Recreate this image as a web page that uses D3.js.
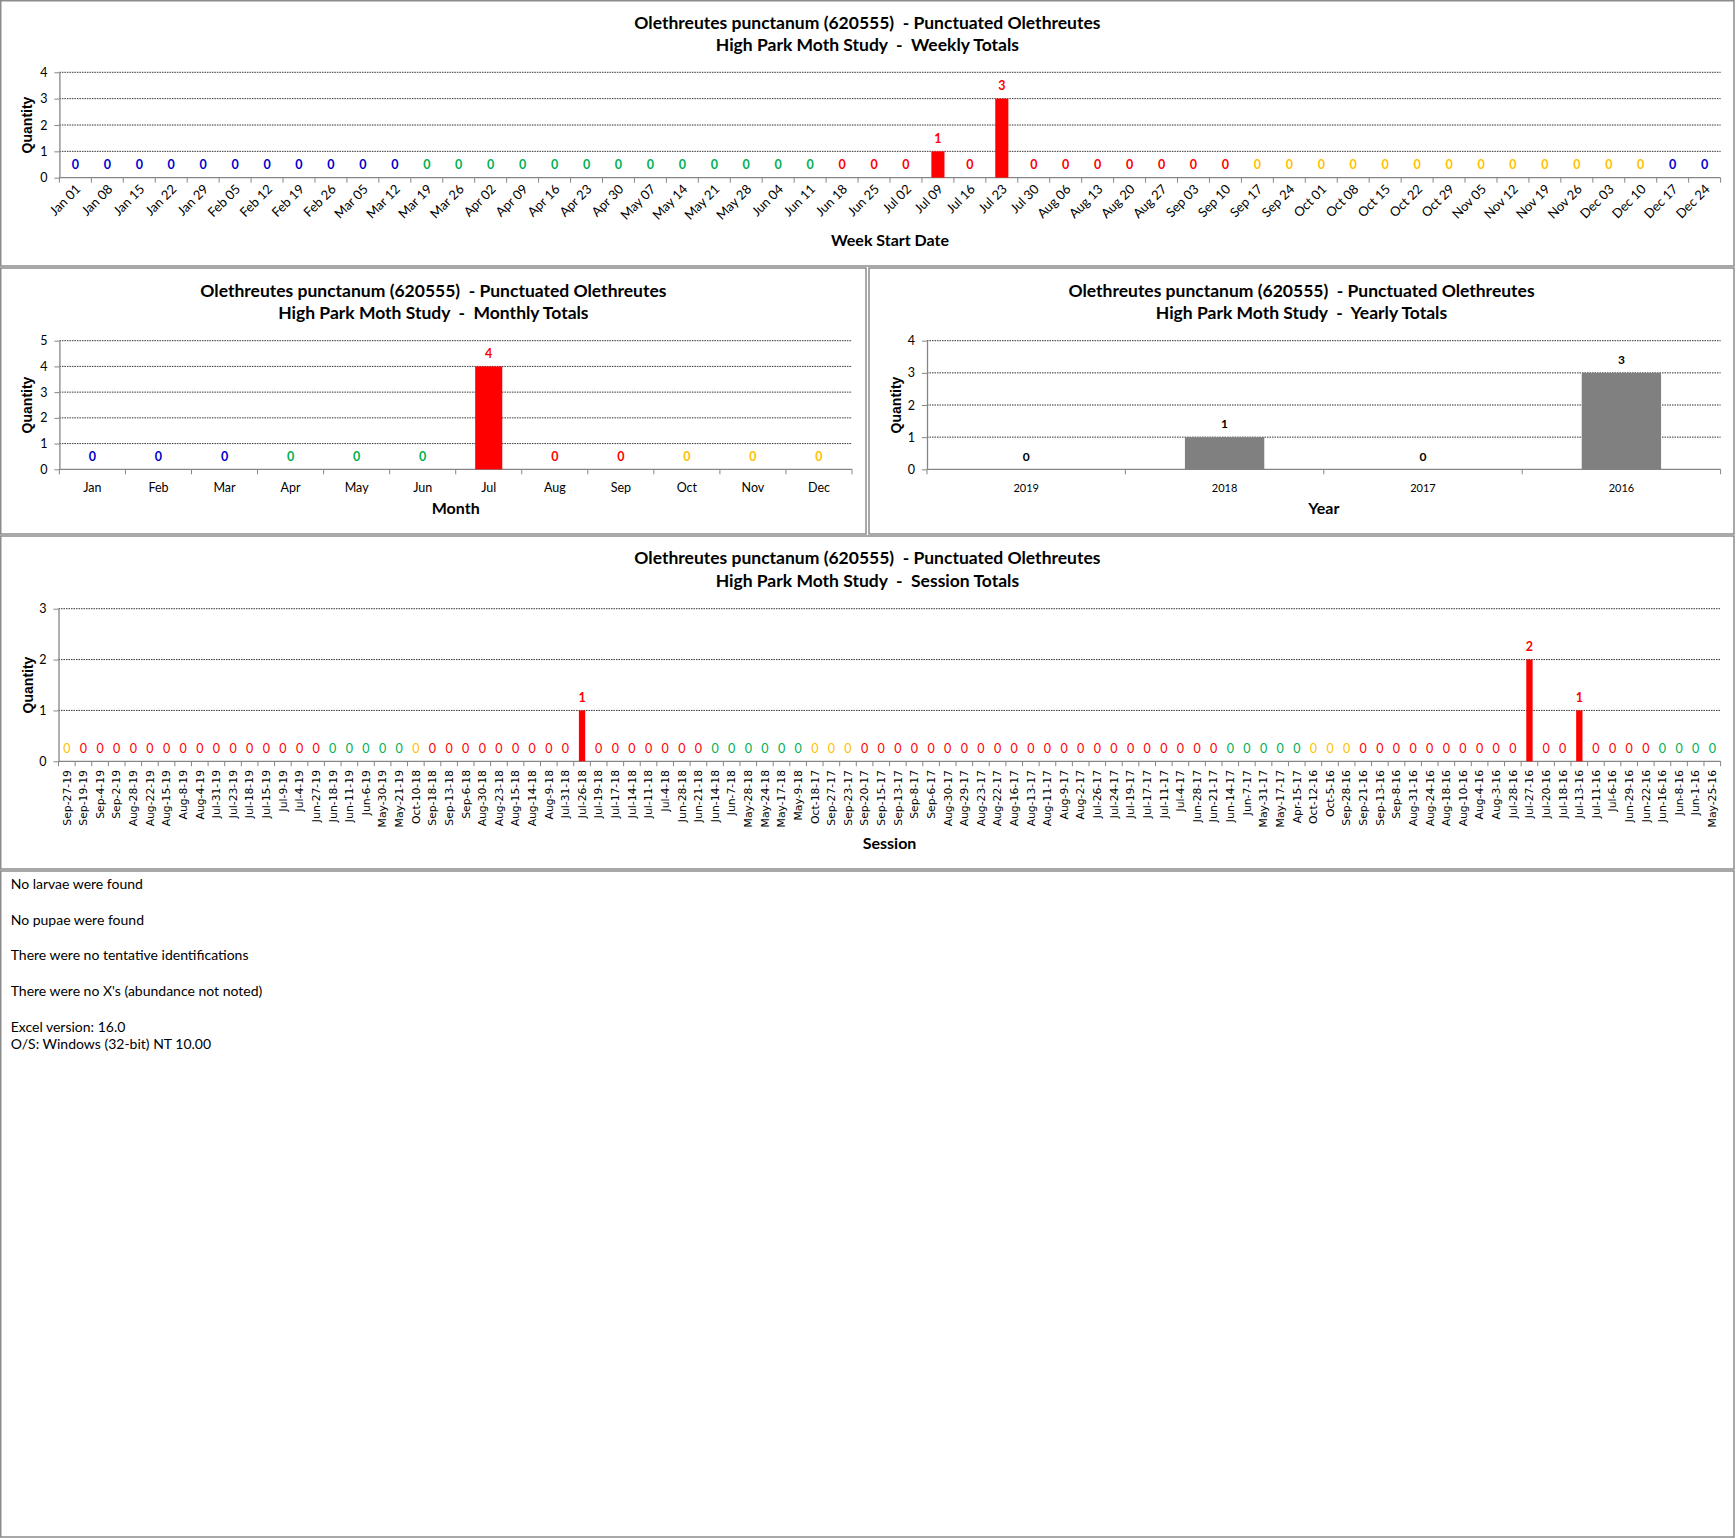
<!DOCTYPE html>
<html>
<head>
<meta charset="utf-8">
<script src="https://cdn.jsdelivr.net/npm/d3@7/dist/d3.min.js"></script>
<style>
  body { margin: 0; background: #fff; }
  svg text { font-family: Lato, "Open Sans", sans-serif; white-space: pre; }
</style>
</head>
<body>
<svg id="chart" width="1736" height="1538"></svg>
<script>
// ---- data ----
var speciesTitle = "Olethreutes punctanum (620555)  - Punctuated Olethreutes";
var studyName = "High Park Moth Study";

var weekLabels = ["Jan 01", "Jan 08", "Jan 15", "Jan 22", "Jan 29", "Feb 05", "Feb 12", "Feb 19", "Feb 26",
  "Mar 05", "Mar 12", "Mar 19", "Mar 26", "Apr 02", "Apr 09", "Apr 16", "Apr 23", "Apr 30",
  "May 07", "May 14", "May 21", "May 28", "Jun 04", "Jun 11", "Jun 18", "Jun 25",
  "Jul 02", "Jul 09", "Jul 16", "Jul 23", "Jul 30", "Aug 06", "Aug 13", "Aug 20", "Aug 27",
  "Sep 03", "Sep 10", "Sep 17", "Sep 24", "Oct 01", "Oct 08", "Oct 15", "Oct 22", "Oct 29",
  "Nov 05", "Nov 12", "Nov 19", "Nov 26", "Dec 03", "Dec 10", "Dec 17", "Dec 24"];
var weekValues = [0, 0, 0, 0, 0, 0, 0, 0, 0, 0, 0, 0, 0,
  0, 0, 0, 0, 0, 0, 0, 0, 0, 0, 0, 0, 0,
  0, 1, 0, 3, 0, 0, 0, 0, 0, 0, 0, 0, 0,
  0, 0, 0, 0, 0, 0, 0, 0, 0, 0, 0, 0, 0];

var monthLabels = ["Jan", "Feb", "Mar", "Apr", "May", "Jun", "Jul", "Aug", "Sep", "Oct", "Nov", "Dec"];
var monthValues = [0, 0, 0, 0, 0, 0, 4, 0, 0, 0, 0, 0];

var yearLabels = ["2019", "2018", "2017", "2016"];
var yearValues = [0, 1, 0, 3];

var sessionLabels = ["Sep-27-19", "Sep-19-19", "Sep-4-19", "Sep-2-19", "Aug-28-19", "Aug-22-19", "Aug-15-19", "Aug-8-19", "Aug-4-19", "Jul-31-19",
  "Jul-23-19", "Jul-18-19", "Jul-15-19", "Jul-9-19", "Jul-4-19", "Jun-27-19", "Jun-18-19", "Jun-11-19", "Jun-6-19", "May-30-19",
  "May-21-19", "Oct-10-18", "Sep-18-18", "Sep-13-18", "Sep-6-18", "Aug-30-18", "Aug-23-18", "Aug-15-18", "Aug-14-18", "Aug-9-18",
  "Jul-31-18", "Jul-26-18", "Jul-19-18", "Jul-17-18", "Jul-14-18", "Jul-11-18", "Jul-4-18", "Jun-28-18", "Jun-21-18", "Jun-14-18",
  "Jun-7-18", "May-28-18", "May-24-18", "May-17-18", "May-9-18", "Oct-18-17", "Sep-27-17", "Sep-23-17", "Sep-20-17", "Sep-15-17",
  "Sep-13-17", "Sep-8-17", "Sep-6-17", "Aug-30-17", "Aug-29-17", "Aug-23-17", "Aug-22-17", "Aug-16-17", "Aug-13-17", "Aug-11-17",
  "Aug-9-17", "Aug-2-17", "Jul-26-17", "Jul-24-17", "Jul-19-17", "Jul-17-17", "Jul-11-17", "Jul-4-17", "Jun-28-17", "Jun-21-17",
  "Jun-14-17", "Jun-7-17", "May-31-17", "May-17-17", "Apr-15-17", "Oct-12-16", "Oct-5-16", "Sep-28-16", "Sep-21-16", "Sep-13-16",
  "Sep-8-16", "Aug-31-16", "Aug-24-16", "Aug-18-16", "Aug-10-16", "Aug-4-16", "Aug-3-16", "Jul-28-16", "Jul-27-16", "Jul-20-16",
  "Jul-18-16", "Jul-13-16", "Jul-11-16", "Jul-6-16", "Jun-29-16", "Jun-22-16", "Jun-16-16", "Jun-8-16", "Jun-1-16", "May-25-16"];
var sessionValues = [0, 0, 0, 0, 0, 0, 0, 0, 0, 0,
  0, 0, 0, 0, 0, 0, 0, 0, 0, 0,
  0, 0, 0, 0, 0, 0, 0, 0, 0, 0,
  0, 1, 0, 0, 0, 0, 0, 0, 0, 0,
  0, 0, 0, 0, 0, 0, 0, 0, 0, 0,
  0, 0, 0, 0, 0, 0, 0, 0, 0, 0,
  0, 0, 0, 0, 0, 0, 0, 0, 0, 0,
  0, 0, 0, 0, 0, 0, 0, 0, 0, 0,
  0, 0, 0, 0, 0, 0, 0, 0, 2, 0,
  0, 1, 0, 0, 0, 0, 0, 0, 0, 0];

var notes = ["No larvae were found", "", "No pupae were found", "", "There were no tentative identifications", "",
  "There were no X's (abundance not noted)", "", "Excel version: 16.0", "O/S: Windows (32-bit) NT 10.00"];

// ---- season colouring (label colour follows the season of the date) ----
var seasonColor = { winter: "#0000CC", spring: "#00B050", summer: "#FF0000", fall: "#FFC000" };

function season(m, d) {
  var md = m * 100 + d;
  if (md < 220) return "winter";
  if (md < 521) return "spring";
  if (md < 822) return "summer";
  if (md < 1121) return "fall";
  return "winter";
}

function weekSeason(lbl) {
  var p = lbl.split(" ");
  var end = new Date(2019, monthLabels.indexOf(p[0]), +p[1] + 6);
  return season(end.getMonth(), end.getDate());
}
function sessionSeason(lbl) {
  var p = lbl.split("-");
  return season(monthLabels.indexOf(p[0]), +p[1]);
}

var svg = d3.select("#chart");
svg.append("rect").attr("width", 1736).attr("height", 1538).attr("fill", "#fff");

function panel(o) {
  var g = svg.append("g");
  var b = o.box, p = o.plot;

  g.append("rect")
    .attr("x", b[0]).attr("y", b[1])
    .attr("width", b[2] - b[0]).attr("height", b[3] - b[1])
    .attr("fill", "none").attr("stroke", "#8c8c8c").attr("stroke-width", 1.5);

  var cx = (b[0] + b[2]) / 2;
  [speciesTitle, studyName + "  -  " + o.subtitle].forEach(function(t, i) {
    g.append("text")
      .attr("x", cx).attr("y", o.titleY[i]).attr("dy", "0.35em")
      .attr("text-anchor", "middle")
      .style("font-weight", "bold").style("font-size", "17.5px")
      .text(t);
  });

  var x = d3.scaleBand().domain(o.labels).range([p.left, p.right]);
  var y = d3.scaleLinear().domain([0, o.yMax]).range([p.bottom, p.top]);

  // dotted gridlines
  g.selectAll(".grid")
    .data(y.ticks(o.yMax).filter(function(d) { return d > 0; }))
    .enter().append("line")
    .attr("x1", p.left).attr("x2", p.right)
    .attr("y1", function(d) { return y(d); }).attr("y2", function(d) { return y(d); })
    .attr("stroke", "#333").attr("stroke-width", 1).attr("stroke-dasharray", "1.5,1");

  // y axis
  var ya = g.append("g")
    .attr("transform", "translate(" + p.left + ",0)")
    .call(d3.axisLeft(y).ticks(o.yMax).tickSizeInner(5).tickSizeOuter(0).tickPadding(7));
  ya.select(".domain").attr("stroke", "#868686").attr("stroke-width", 1.3);
  ya.selectAll(".tick line").attr("stroke", "#868686");
  ya.selectAll(".tick text").style("font-family", "Lato").style("font-size", "12.5px").attr("fill", "#000");

  // x axis line + ticks on category boundaries
  g.append("line")
    .attr("x1", p.left).attr("x2", p.right).attr("y1", y(0)).attr("y2", y(0))
    .attr("stroke", "#868686").attr("stroke-width", 1.3);
  g.selectAll(".xtick")
    .data(o.labels.map(function(d) { return x(d); }).concat([p.right]))
    .enter().append("line")
    .attr("x1", function(d) { return d; }).attr("x2", function(d) { return d; })
    .attr("y1", y(0)).attr("y2", y(0) + 5)
    .attr("stroke", "#868686").attr("stroke-width", 1);

  // bars
  var bw = x.bandwidth() * o.barFrac;
  var data = o.labels.map(function(d, i) { return { label: d, value: o.values[i], i: i }; });
  g.selectAll(".bar")
    .data(data.filter(function(d) { return d.value > 0; }))
    .enter().append("rect")
    .attr("x", function(d) { return x(d.label) + (x.bandwidth() - bw) / 2; })
    .attr("y", function(d) { return y(d.value); })
    .attr("width", bw)
    .attr("height", function(d) { return y(0) - y(d.value); })
    .attr("fill", function(d) { return o.barColor(d); });

  // value labels
  g.selectAll(".val")
    .data(data)
    .enter().append("text")
    .attr("x", function(d) { return x(d.label) + x.bandwidth() / 2; })
    .attr("y", function(d) { return y(d.value) - 13; })
    .attr("dy", "0.35em")
    .attr("text-anchor", "middle")
    .style("font-size", o.valueSize)
    .style("font-weight", function(d) { return o.valueBold(d) ? "bold" : "normal"; })
    .attr("fill", function(d) { return o.labelColor(d); })
    .text(function(d) { return d.value; });

  // category labels
  var xl = g.selectAll(".xl")
    .data(o.labels)
    .enter().append("text")
    .style("font-size", o.xFont.size)
    .style("font-family", o.xFont.family)
    .attr("fill", "#000")
    .text(function(d) { return d; });
  if (o.xRotate === 0) {
    xl.attr("x", function(d) { return x(d) + x.bandwidth() / 2; })
      .attr("y", o.xLabelY).attr("dy", "0.35em").attr("text-anchor", "middle");
  } else {
    xl.attr("text-anchor", "end")
      .attr("transform", function(d) {
        return "translate(" + (x(d) + x.bandwidth() / 2 + o.xShift) + "," + o.xLabelY + ") rotate(" + o.xRotate + ")";
      });
  }

  // axis titles
  g.append("text")
    .attr("x", (p.left + p.right) / 2).attr("y", o.xTitleY).attr("dy", "0.35em")
    .attr("text-anchor", "middle")
    .style("font-weight", "bold").style("font-size", "16px")
    .text(o.xTitle);
  g.append("text")
    .attr("transform", "translate(" + o.qX + "," + (p.top + p.bottom) / 2 + ") rotate(-90)")
    .attr("dy", "0.35em").attr("text-anchor", "middle")
    .style("font-family", "'Liberation Sans', Arial, sans-serif")
    .style("font-weight", "bold").style("font-size", "14px")
    .text("Quantity");
}

panel({
  box: [0.75, 0.75, 1734, 266], titleY: [22.7, 45], subtitle: "Weekly Totals",
  plot: { left: 59.4, right: 1720.6, top: 72.3, bottom: 177.7 },
  labels: weekLabels, values: weekValues, yMax: 4, barFrac: 0.41,
  barColor: function(d) { return seasonColor[weekSeason(d.label)]; },
  labelColor: function(d) { return seasonColor[weekSeason(d.label)]; },
  valueBold: function() { return true; }, valueSize: "12.5px",
  xFont: { size: "13px", family: "Lato" }, xRotate: -45, xShift: 6, xLabelY: 190,
  xTitle: "Week Start Date", xTitleY: 240, qX: 26.6
});

panel({
  box: [0.75, 268, 866, 534], titleY: [290.7, 313.3], subtitle: "Monthly Totals",
  plot: { left: 59.4, right: 852, top: 340.7, bottom: 469.3 },
  labels: monthLabels, values: monthValues, yMax: 5, barFrac: 0.41,
  barColor: function(d) { return seasonColor[season(d.i, 15)]; },
  labelColor: function(d) { return seasonColor[season(d.i, 15)]; },
  valueBold: function() { return true; }, valueSize: "12.5px",
  xFont: { size: "12.5px", family: "Lato" }, xRotate: 0, xLabelY: 487.7,
  xTitle: "Month", xTitleY: 508, qX: 26.6
});

panel({
  box: [869, 268, 1734, 534], titleY: [290.7, 313.3], subtitle: "Yearly Totals",
  plot: { left: 927, right: 1720.6, top: 340.7, bottom: 469.3 },
  labels: yearLabels, values: yearValues, yMax: 4, barFrac: 0.4,
  barColor: function() { return "#808080"; },
  labelColor: function() { return "#000"; },
  valueBold: function() { return true; }, valueSize: "12px",
  xFont: { size: "11px", family: "Lato" }, xRotate: 0, xLabelY: 487.7,
  xTitle: "Year", xTitleY: 508, qX: 896.5
});

panel({
  box: [0.75, 536, 1734, 869], titleY: [558.3, 581], subtitle: "Session Totals",
  plot: { left: 58.5, right: 1720.6, top: 608.7, bottom: 761.3 },
  labels: sessionLabels, values: sessionValues, yMax: 3, barFrac: 0.38,
  barColor: function(d) { return seasonColor[sessionSeason(d.label)]; },
  labelColor: function(d) { return seasonColor[sessionSeason(d.label)]; },
  valueBold: function(d) { return d.value > 0; }, valueSize: "12.5px",
  xFont: { size: "10.8px", family: "'DejaVu Sans', sans-serif" }, xRotate: -90, xShift: 3.8, xLabelY: 770,
  xTitle: "Session", xTitleY: 843.3, qX: 27.7
});

// notes box
svg.append("rect")
  .attr("x", 0.75).attr("y", 871).attr("width", 1733.25).attr("height", 666)
  .attr("fill", "none").attr("stroke", "#8c8c8c").attr("stroke-width", 1.5);
svg.selectAll(".note")
  .data(notes)
  .enter().append("text")
  .attr("x", 10.7)
  .attr("y", function(d, i) { return 884.3 + i * 17.8; })
  .attr("dy", "0.35em")
  .style("font-size", "14px")
  .text(function(d) { return d; });
</script>
</body>
</html>
